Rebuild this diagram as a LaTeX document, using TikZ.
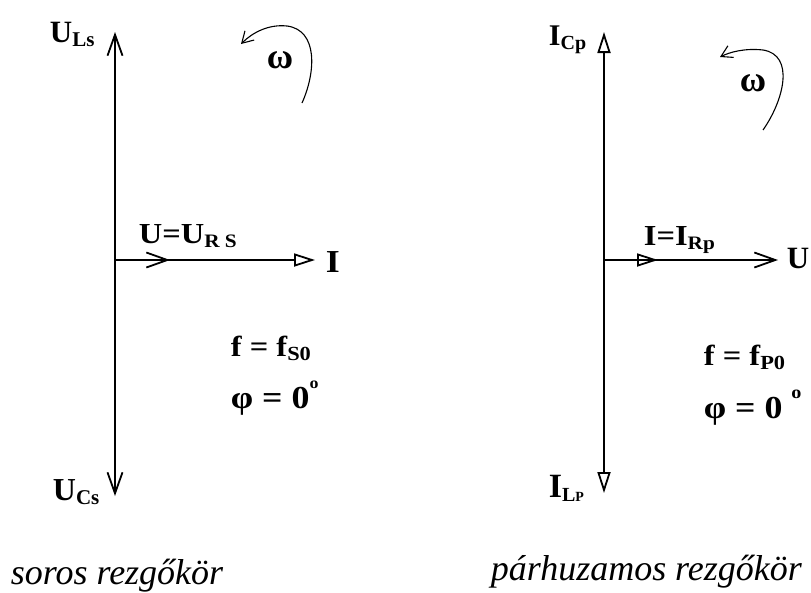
\documentclass[tikz,border=0pt]{standalone}
\usepackage{fontspec}
\setmainfont{Liberation Serif}
\newfontfamily\widefont{Liberation Serif}[FakeStretch=1.12]
\usetikzlibrary{arrows.meta}
\newcommand\lo[2][20]{\raisebox{-4pt}{\fontsize{#1}{#1}\selectfont #2}}
\newcommand\dgr[1][16]{\raisebox{0.6em}{\fontsize{#1}{#1}\selectfont o}}

\begin{document}
\begin{tikzpicture}[x=1pt,y=-1pt,line width=1.8pt,
   vee/.tip={Straight Barb[length=21pt,width=15pt]},
   tri/.tip={Triangle[open,length=21pt,width=13pt]},
   bend/.tip={Straight Barb[length=11pt,width=13pt]},
   lbl/.style={inner sep=0pt,anchor=base west,font=\bfseries\fontsize{#1}{#1}\selectfont},
   wlbl/.style={inner sep=0pt,anchor=base west,font=\widefont\bfseries\fontsize{#1}{#1}\selectfont},
   captxt/.style={inner sep=0pt,anchor=base west,font=\itshape\fontsize{36}{36}\selectfont}]
  \useasboundingbox (0,0) rectangle (811,592);
  \coordinate (sO) at (115,260);
  \coordinate (sT) at (115,32);
  \coordinate (sB) at (115,496);
  \coordinate (sR) at (315,260);
  \coordinate (sM) at (170,260);
  \draw[vee-vee] (sT)--(sB);
  \draw[-tri] (sO)--(sR);
  \draw[-vee] (sO)--(sM);
  \draw[line width=1.1pt,-bend] (302,103) .. controls (316,72) and (318,30) .. (287,26)
     .. controls (268,24) and (252,33) .. (241,44);
  \node[lbl=31] (ULs) at (49,42) {U\lo[21]{Ls}};
  \node[lbl=32] (UCs) at (52,500) {U\lo[21]{Cs}};
  \node[wlbl=29] (URs) at (138,243) {U=U\lo[19]{R S}};
  \node[wlbl=32] (Iend) at (325,272) {I};
  \node[lbl=36,anchor=base] (omS) at (280,68) {ω};
  \node[wlbl=29] (fS) at (230,356) {f = f\lo{S0}};
  \node[wlbl=32] (phiS) at (230,408) {φ = 0\dgr};
  \node[captxt] (capS) at (10,584) {soros rezgőkör};
  \coordinate (pO) at (604,260);
  \coordinate (pT) at (604,32);
  \coordinate (pB) at (604,493);
  \coordinate (pR) at (778,260);
  \coordinate (pM) at (658,260);
  \draw[tri-tri] (pT)--(pB);
  \draw[-vee] (pO)--(pR);
  \draw[-tri] (pO)--(pM);
  \draw[line width=1.1pt,-bend] (763,130) .. controls (784,100) and (795,55) .. (763,50)
     .. controls (745,48) and (730,52) .. (720,57);
  \node[lbl=30] (ICp) at (548,45) {I\lo[20]{Cp}};
  \node[lbl=34] (ILp) at (548,497) {I\lo[20]{L\fontsize{14}{14}\selectfont P}};
  \node[wlbl=29] (IRp) at (643,245) {I=I\lo[19]{Rp}};
  \node[lbl=31] (Uend) at (786,268) {U};
  \node[lbl=36,anchor=base] (omP) at (753,91) {ω};
  \node[wlbl=29] (fP) at (703,365) {f = f\lo{P0}};
  \node[wlbl=32] (phiP) at (703,418) {φ = 0 \dgr[18]};
  \node[captxt] (capP) at (490,580) {párhuzamos rezgőkör};
\end{tikzpicture}
\end{document}
